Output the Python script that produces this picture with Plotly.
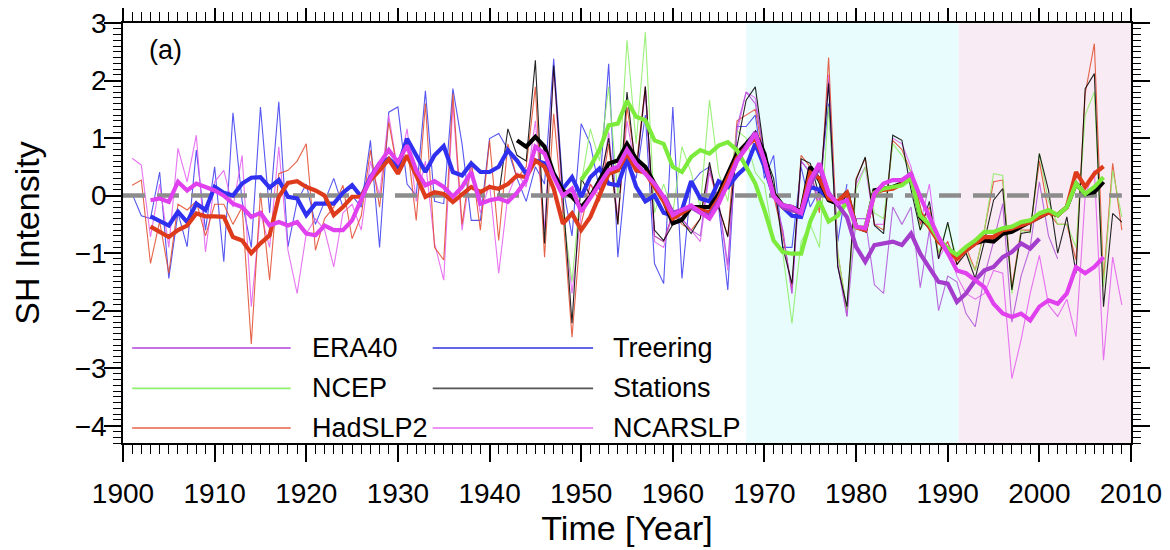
import plotly.graph_objects as go

# ---------------- data ----------------
had_thin_start = 1901
had_thin = [0.18, 0.27, -1.18, -0.45, -1.35, -0.15, -0.25, -0.1, -0.7, -0.15,
            -0.15, -0.5, -0.2, -2.58, 0.05, -1.47, 0.38, 0.44, 0.6, 0.9,
            -0.95, -0.4, -0.2, 0.18, -0.75, -0.35, 0.79, -0.2, 1.28, 0.4,
            0.9, -0.43, 1.6, -0.9, -1.12, 1.77, -0.5, 0.61, -0.6, 0.96,
            -0.78, 0.9, 0.3, 0.5, 1.89, -1.07, 1.42, -0.3, -2.46, -0.5,
            0.2, -0.1, 0.9, -0.5, 1.54, 0.5, 1.9, -0.7, -0.8, -0.3,
            -0.5, -0.6, -0.4, 0.5, -0.2, -0.7, 1.3, 1.4, 1.5, 0.6,
            0.0, -0.7, -1.6, 0.7, 0.5, -0.3, 2.4, -1.0, -2.0, 0.3,
            0.65, -0.5, -0.6, 0.96, 0.8, 0.4, -0.5, -0.2, -1.0, -0.8,
            -1.2, -0.9, -1.3, -0.6, 0.24, 0.27, -1.6, -0.6, -0.6, 0.6,
            -0.3, -0.5, -0.5, -1.12, 1.77, 2.64, -1.47, 0.56, -0.6]
had_thick_start = 1903
had_thick = [-0.54, -0.62, -0.72, -0.6, -0.52, -0.31, -0.36, -0.36, -0.37, -0.72,
             -0.78, -1.0, -0.83, -0.69, -0.02, 0.22, 0.25, 0.15, 0.09, 0.0,
             -0.34, -0.2, -0.02, -0.02, 0.27, 0.44, 0.63, 0.38, 0.7, 0.35,
             -0.02, 0.06, 0.03, -0.11, 0.03, 0.15, 0.06, 0.15, 0.12, 0.2,
             0.35, 0.32, 0.61, 0.5, 0.12, -0.49, -0.31, -0.6, -0.37, 0.0,
             0.38, 0.44, 0.73, 0.44, 0.4, 0.15, -0.1, -0.4, -0.3, -0.2,
             -0.25, -0.3, -0.05, 0.3, 0.65, 0.85, 1.0, 0.6, 0.0, -0.2,
             -0.25, -0.3, 0.4, 0.3, -0.05, -0.1, 0.05, -0.55, -0.6, 0.05,
             0.1, 0.12, 0.2, 0.35, -0.3, -0.55, -0.8, -0.95, -1.1, -0.95,
             -0.83, -0.72, -0.72, -0.6, -0.57, -0.52, -0.46, -0.37, -0.29, -0.34,
             -0.2, 0.41, 0.15, 0.38, 0.51]

tree_thin_start = 1901
tree_thin = [0.03, -0.35, -0.4, 0.41, -1.44, -0.3, -0.89, 0.79, -0.6, 0.5,
             -1.15, 1.44, -0.1, -0.9, 1.54, -0.3, 1.63, -0.89, -0.1, 0.2,
             -0.5, -0.1, 0.3, -0.2, 0.0, -0.2, 0.96, -0.9, 1.45, 1.54,
             0.2, 0.0, 1.82, -0.1, -0.14, 1.86, 0.9, -0.43, -0.43, 0.99,
             1.08, 0.8, 0.3, -0.1, 0.5, 0.2, 2.38, 0.15, -0.7, 1.25,
             0.9, 0.1, 2.29, -1.07, 0.6, 0.3, 1.4, -1.18, -1.53, 1.54,
             -1.44, 0.2, 0.4, 0.5, -0.2, -1.64, 1.2, 1.2, 1.4, 0.3,
             0.7, -0.9, -0.9, 0.5, -0.2, 0.1, 1.6, -0.8, 0.2]
tree_thick_start = 1903
tree_thick = [-0.36, -0.45, -0.52, -0.28, -0.46, -0.14, -0.25, 0.15, 0.05, 0.0,
              0.21, 0.31, 0.32, 0.14, 0.27, -0.02, -0.05, -0.34, -0.14, -0.14,
              -0.14, 0.05, 0.18, -0.02, 0.32, 0.56, 0.64, 0.5, 0.99, 0.7,
              0.41, 0.7, 0.86, 0.41, 0.35, 0.56, 0.41, 0.41, 0.5, 0.79,
              0.61, 0.38, 0.61, 0.56, 0.38, 0.12, 0.32, -0.02, 0.32, 0.47,
              0.21, 0.18, 0.64, 0.15, -0.1, 0.0, -0.3, -0.35, -0.25, 0.25,
              -0.05, -0.1, 0.25, 0.15, 0.35, 0.5, 0.9, 0.5, 0.0, -0.2,
              -0.35, -0.37, 0.15, 0.1, -0.05]

ncar_thin_start = 1901
ncar_thin = [0.65, 0.53, -0.72, 0.2, -0.9, 0.82, 0.24, 1.05, -0.98, 0.24,
             0.44, -0.2, 0.7, -1.93, -0.3, -0.9, 0.85, -0.95, -1.7, -0.66,
             -0.4, -0.6, -1.24, -0.3, -0.15, -0.6, 0.6, 0.0, 1.4, 0.4,
             1.16, -0.1, 0.6, -0.83, -1.47, 1.6, -0.6, 0.5, -0.3, 0.2,
             -1.35, 0.0, 0.4, 0.15, 1.3, -0.6, 2.2, -0.2, -1.7, -0.3,
             0.2, 0.0, 1.1, -0.4, 1.3, 0.4, 1.8, -0.8, -0.9, -0.3,
             -0.4, -0.6, -0.8, 0.4, -0.1, -1.3, 1.1, 1.8, 1.7, 0.7,
             0.0, -0.6, -1.7, 0.6, 0.4, -0.1, 2.1, -1.2, -2.1, 0.2,
             0.5, -0.5, -0.5, 1.0, 0.9, 0.5, -0.5, 0.2, -1.1, -0.8,
             -1.4, -1.7, -1.8, -1.7, -1.3, -1.35, -3.18, -2.51, -1.7, -1.04,
             -1.9, -2.1, -1.8, -2.45, 0.0, 0.44, -2.86, -1.07, -1.9]
ncar_thick_start = 1903
ncar_thick = [-0.08, -0.05, -0.11, 0.24, 0.09, 0.21, 0.15, 0.09, 0.0, -0.14,
              -0.2, -0.37, -0.3, -0.52, -0.46, -0.52, -0.46, -0.66, -0.69, -0.52,
              -0.6, -0.6, -0.43, -0.08, 0.3, 0.56, 0.79, 0.58, 0.87, 0.44,
              0.18, 0.25, 0.15, -0.02, 0.15, 0.41, -0.14, -0.08, -0.05, -0.11,
              0.05, 0.27, 0.85, 0.73, 0.32, 0.0, 0.12, -0.28, -0.05, 0.21,
              0.44, 0.5, 0.8, 0.55, 0.38, 0.21, -0.02, -0.34, -0.25, -0.17,
              -0.29, -0.4, -0.14, 0.21, 0.61, 0.82, 1.08, 0.61, -0.02, -0.17,
              -0.2, -0.3, 0.27, 0.56, 0.03, -0.14, -0.08, -0.54, -0.57, 0.03,
              0.21, 0.27, 0.27, 0.38, -0.02, -0.37, -0.72, -1.0, -1.3, -1.35,
              -1.47, -1.59, -1.88, -2.05, -2.11, -2.05, -2.17, -1.93, -1.82, -1.88,
              -1.7, -1.24, -1.35, -1.24, -1.07]

era_thin_start = 1957
era_thin = [1.9, -0.7, -0.8, -0.3, -0.4, -0.6, -0.7, 0.5, -0.1, -1.2,
            1.2, 1.8, 1.6, 0.7, 0.1, -0.6, -1.7, 0.6, 0.4, -0.2,
            2.0, -1.2, -2.1, -0.4, -0.4, -1.55, -1.7, -0.2, -0.5, -0.2,
            -1.6, -0.6, -2.0, -1.4, -1.5, -2.05, -2.28, -1.4, -0.8, -0.14,
            -2.2, -1.4, -0.9, 0.24, -0.7, -1.1]
era_thick_start = 1959
era_thick = [0.0, -0.3, -0.25, -0.2, -0.3, -0.35, -0.1, 0.2, 0.6, 0.85,
             1.1, 0.6, 0.0, -0.2, -0.25, -0.3, 0.2, 0.5, 0.05, -0.15,
             -0.37, -0.89, -1.15, -0.86, -0.83, -0.8, -0.86, -0.66, -1.01, -1.24,
             -1.5, -1.53, -1.85, -1.7, -1.47, -1.3, -1.24, -1.07, -0.98, -0.83,
             -0.92, -0.75]

ncep_thin_start = 1948
ncep_thin = [-0.3, -1.5, 0.2, 1.16, 0.6, 1.89, 0.0, 2.7, 0.9, 2.84,
             -0.3, 0.2, -0.3, 0.85, 0.4, -0.2, 1.66, 0.4, -0.1, 1.13,
             1.0, 0.4, 0.2, -0.8, -1.0, -2.22, -0.8, -0.5, -0.9, 1.55,
             -1.0, -2.0, 0.1, 0.5, -0.3, -0.4, 0.9, 0.7, 0.4, -0.6,
             -0.3, -1.0, -0.5, -1.1, -1.0, -1.3, -0.6, 0.38, 0.35, -1.7,
             -0.6, -0.65, 0.73, -0.1, -0.5, -0.5, -0.9, 1.4, 1.8, -1.59,
             0.44, -0.37]
ncep_thick_start = 1950
ncep_thick = [0.27, 0.5, 0.8, 1.22, 1.25, 1.65, 1.37, 1.31, 0.96, 0.9,
              0.5, 0.41, 0.67, 0.79, 0.73, 0.87, 0.93, 0.79, 0.5, 0.21,
              -0.25, -0.78, -0.98, -1.01, -1.01, -0.45, -0.1, -0.45, -0.35, -0.1,
              -0.55, -0.55, 0.05, 0.12, 0.15, 0.18, 0.3, -0.35, -0.5, -0.75,
              -0.92, -1.03, -0.89, -0.78, -0.63, -0.63, -0.57, -0.54, -0.46, -0.43,
              -0.31, -0.25, -0.34, -0.2, 0.21, 0.03, 0.15, 0.32]

stn_thin_start = 1941
stn_thin = [0.0, 1.16, 0.7, 0.6, 2.35, -0.83, 2.26, 0.1, -2.22, 0.3,
            0.0, 0.2, 1.0, -0.5, 1.8, 0.4, 1.89, -0.6, -0.78, -0.5,
            -0.45, -0.66, -0.4, 0.58, -0.2, -0.72, 0.85, 1.66, 1.89, 0.73,
            0.3, -0.9, -1.53, 0.64, 0.56, 0.0, 1.95, -1.24, -1.93, 0.27,
            0.67, -0.52, -0.66, 1.05, 0.96, 0.1, -0.6, -0.1, -1.1, -0.46,
            -1.2, -1.0, -1.44, -0.8, -0.08, 0.12, -1.64, -0.66, -0.63, 0.73,
            0.09, -1.0, -0.37, -1.35, 1.86, 2.12, -1.93, -0.31, -0.46]
stn_thick_start = 1943
stn_thick = [0.96, 0.85, 1.02, 0.85, 0.38, 0.09, -0.02, -0.2, -0.02, 0.27,
             0.56, 0.61, 0.9, 0.64, 0.5, 0.21, -0.08, -0.48, -0.42, -0.2,
             -0.2, -0.2, 0.03, 0.38, 0.73, 0.9, 1.08, 0.73, 0.03, -0.17,
             -0.2, -0.28, 0.5, 0.27, -0.08, -0.14, 0.06, -0.54, -0.6, 0.09,
             0.12, 0.15, 0.21, 0.38, -0.37, -0.54, -0.78, -0.92, -1.07, -0.95,
             -0.83, -0.78, -0.8, -0.66, -0.63, -0.54, -0.46, -0.37, -0.29, -0.34,
             -0.2, 0.21, 0.03, 0.06, 0.24]

zero_line_years = [1900, 2009]
shade_periods = [(1968, 1991.2), (1991.2, 2010)]
legend_names = ["ERA40", "NCEP", "HadSLP2", "Treering", "Stations", "NCARSLP"]

# ---------------- styles ----------------
FONT = "Liberation Sans, Arial, Helvetica, sans-serif"
thin_col = {"ERA40": "#B050D8", "NCEP": "#8CEE64", "HadSLP2": "#E2492B",
            "Treering": "#3A3AF0", "Stations": "#000000", "NCARSLP": "#E45CF0"}
thick_col = {"ERA40": "#A43CCC", "NCEP": "#7CEB3C", "HadSLP2": "#DE3A1C",
             "Treering": "#3030F0", "Stations": "#000000", "NCARSLP": "#E040EE"}
legend_col = {"ERA40": "#B040E0", "NCEP": "#90F070", "HadSLP2": "#E86048",
              "Treering": "#3030E0", "Stations": "#555555", "NCARSLP": "#E870F0"}
shade_cols = ["#E8FCFE", "#F9EBF3"]

series = {
    "HadSLP2": (had_thin_start, had_thin, had_thick_start, had_thick),
    "Treering": (tree_thin_start, tree_thin, tree_thick_start, tree_thick),
    "NCARSLP": (ncar_thin_start, ncar_thin, ncar_thick_start, ncar_thick),
    "ERA40": (era_thin_start, era_thin, era_thick_start, era_thick),
    "NCEP": (ncep_thin_start, ncep_thin, ncep_thick_start, ncep_thick),
    "Stations": (stn_thin_start, stn_thin, stn_thick_start, stn_thick),
}

fig = go.Figure()

thin_order = ["Treering", "NCARSLP", "HadSLP2", "NCEP", "ERA40", "Stations"]
for name in thin_order:
    s0, v, _, _ = series[name]
    fig.add_trace(go.Scatter(x=list(range(s0, s0 + len(v))), y=v, mode="lines",
                             line=dict(color=thin_col[name], width=1.1),
                             opacity=0.85, showlegend=False, hoverinfo="skip"))

fig.add_trace(go.Scatter(x=zero_line_years, y=[0, 0], mode="lines",
                         line=dict(color="#8C8C8C", width=4.5, dash="22px,12px"),
                         showlegend=False, hoverinfo="skip"))

thick_order = ["Treering", "Stations", "HadSLP2", "NCEP", "ERA40", "NCARSLP"]
for name in thick_order:
    _, _, s0, v = series[name]
    fig.add_trace(go.Scatter(x=list(range(s0, s0 + len(v))), y=v, mode="lines",
                             line=dict(color=thick_col[name], width=4.2),
                             showlegend=False, hoverinfo="skip"))

shapes = []
for (a, b), c in zip(shade_periods, shade_cols):
    shapes.append(dict(type="rect", xref="x", yref="paper", x0=a, x1=b, y0=0, y1=1,
                       fillcolor=c, line=dict(width=0), layer="below"))

# manual legend (long sample lines as in the reference)
annotations = []
leg_rows_y = [-2.65, -3.35, -4.04]
leg_cols = [(1901.0, 1918.3, 1920.4), (1933.8, 1951.3, 1953.3)]
for i, name in enumerate(legend_names):
    col, row = divmod(i, 3)
    x0, x1, xt = leg_cols[col]
    y = leg_rows_y[row]
    shapes.append(dict(type="line", xref="x", yref="y", x0=x0, x1=x1, y0=y, y1=y,
                       line=dict(color=legend_col[name], width=1.6), layer="above"))
    annotations.append(dict(x=xt, y=y, xref="x", yref="y", text=name, showarrow=False,
                            xanchor="left", yanchor="middle",
                            font=dict(family=FONT, size=27, color="black")))

annotations.append(dict(x=0.024, y=0.935, xref="paper", yref="paper", text="(a)",
                        showarrow=False, xanchor="left", yanchor="middle",
                        font=dict(family=FONT, size=27, color="black")))

axis_common = dict(showline=True, linecolor="black", linewidth=1.5, mirror="ticks",
                   ticks="outside", ticklen=17, tickwidth=1.5, tickcolor="black",
                   showgrid=False, zeroline=False, automargin=False,
                   ticklabeloverflow="allow",
                   tickfont=dict(family=FONT, size=28, color="black"))

# the page body has an 8px default margin: size the figure so the plot box
# lands at the same pixel position as the reference
fig.update_layout(
    width=1162, height=542,
    margin=dict(l=115, r=39, t=15, b=107),
    paper_bgcolor="white", plot_bgcolor="white",
    shapes=shapes, annotations=annotations,
    xaxis=dict(range=[1900, 2010], tickmode="linear", tick0=1900, dtick=10,
               minor=dict(dtick=1, ticklen=9, ticks="outside", tickcolor="black", tickwidth=1.2),
               ticklabelstandoff=8,
               title=dict(text="Time [Year]", font=dict(family=FONT, size=34, color="black"), standoff=4),
               **axis_common),
    yaxis=dict(range=[-4.3, 3.0], tickmode="linear", tick0=0, dtick=1,
               minor=dict(dtick=0.1, ticklen=8, ticks="outside", tickcolor="black", tickwidth=1.2),
               ticklabelstandoff=-8,
               title=dict(text="SH Intensity", font=dict(family=FONT, size=34, color="black"), standoff=30),
               **axis_common),
)

fig.write_html("out.html")
